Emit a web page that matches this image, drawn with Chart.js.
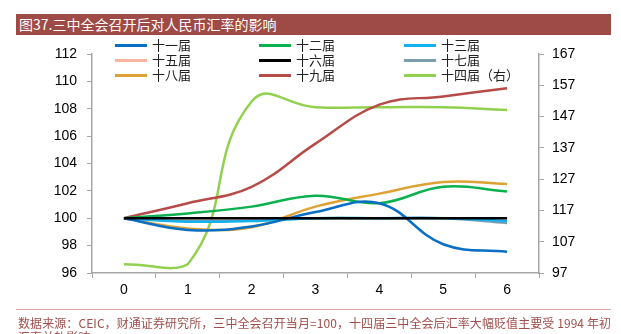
<!DOCTYPE html>
<html>
<head>
<meta charset="utf-8">
<script src="https://cdn.jsdelivr.net/npm/chart.js@4.4.1/dist/chart.umd.min.js"></script>
<style>
  html, body { margin: 0; padding: 0; background: #ffffff; }
  #wrap { position: relative; width: 621px; height: 334px; overflow: hidden; background: #fff; }
  #chart { position: absolute; left: 0; top: 0; }
  #title {
    position: absolute; left: 16px; top: 14px; width: 595px; height: 21px;
    background: #9e4a46; color: #fff; font-family: "Noto Sans CJK SC", sans-serif;
    font-size: 14px; line-height: 21px; padding-left: 3px; box-sizing: border-box;
  }
  #legend { position: absolute; left: 115px; top: 37px; font-family: "Noto Sans CJK SC", sans-serif; font-size: 13px; color: #222; }
  .item { position: absolute; white-space: nowrap; height: 15px; line-height: 15px; }
  .item span.swatch { display: inline-block; width: 32px; height: 3px; vertical-align: middle; margin-right: 5px; position: relative; top: -1px; }
  #rule { position: absolute; left: 16px; top: 309px; width: 595px; height: 1px; background: #d9a7a4; }
  #source {
    position: absolute; left: 18px; top: 316px; width: 600px; color: #a0504c;
    font-family: "Noto Sans CJK SC", sans-serif; font-size: 12px; line-height: 14px;
    letter-spacing: 0.08px; white-space: nowrap;
  }
</style>
</head>
<body>
<div id="wrap">
  <canvas id="chart" width="621" height="334"></canvas>
  <div id="title">图37.三中全会召开后对人民币汇率的影响</div>
  <div id="legend"></div>
  <div id="rule"></div>
  <div id="source">数据来源：CEIC，财通证券研究所，三中全会召开当月=100，十四届三中全会后汇率大幅贬值主要受 1994 年初<br>汇率并轨影响</div>
</div>
<script>
// months after the plenum
const months = ['0', '1', '2', '3', '4', '5', '6'];

// left axis series (plenum month = 100)
const s11 = [100, 99.15, 99.4, 100.45, 101.1, 98.1, 97.55];
const s12 = [100, 100.35, 100.85, 101.65, 101.1, 102.3, 101.95];
const s13 = [100, 99.75, 99.8, 100, 100, 100, 99.8];
const s15 = [100, 100, 100, 100, 100, 100, 100];
const s16 = [100, 100, 100, 100, 100, 100, 100];
const s17 = [100, 99.8, 99.85, 100, 100, 100, 99.65];
const s18 = [100, 99.25, 99.35, 100.85, 101.8, 102.65, 102.5];
const s19 = [100, 101.1, 102.3, 105.45, 108.3, 108.9, 109.5];

// right axis series
const s14 = [99.8, 99.8, 151.8, 150, 150, 150, 149.1];

const seriesNames = ['十一届', '十二届', '十三届', '十五届', '十六届', '十七届', '十八届', '十九届', '十四届（右）'];
const seriesColours = ['#0a6fc2', '#0bb04f', '#13b2ef', '#f9b4a2', '#000000', '#7b9db0', '#dea234', '#b64b48', '#92d050'];

const leftTicks = { min: 96, max: 112, step: 2 };
const rightTicks = { min: 97, max: 167, step: 10 };

const axisColour = '#a6a6a6';
const tickFont = { family: '"Liberation Sans", Arial, sans-serif', size: 14 };

function makeDataset(i, values, axis) {
  return {
    label: seriesNames[i],
    data: values,
    yAxisID: axis,
    borderColor: seriesColours[i],
    backgroundColor: seriesColours[i],
    borderWidth: 2.5,
    pointRadius: 0,
    tension: 0.4,
    fill: false
  };
}

// build legend in three columns, same as the original
function buildLegend() {
  const box = document.getElementById('legend');
  const colX = [0, 144, 289];
  seriesNames.forEach((name, i) => {
    const el = document.createElement('div');
    el.className = 'item';
    el.style.left = colX[i % 3] + 'px';
    el.style.top = (Math.floor(i / 3) * 15) + 'px';
    el.innerHTML = '<span class="swatch" style="background:' + seriesColours[i] + '"></span>' + name;
    box.appendChild(el);
  });
}

const datasets = [
  makeDataset(0, s11, 'y'),
  makeDataset(1, s12, 'y'),
  makeDataset(2, s13, 'y'),
  makeDataset(3, s15, 'y'),
  makeDataset(4, s16, 'y'),
  makeDataset(5, s17, 'y'),
  makeDataset(6, s18, 'y'),
  makeDataset(7, s19, 'y'),
  makeDataset(8, s14, 'y1')
];

// draw order: black on top of the flat ones
datasets[4].order = -1;
// the right-axis line is a bit more rounded in the original
datasets[8].tension = 0.48;

new Chart(document.getElementById('chart'), {
  type: 'line',
  data: { labels: months, datasets: datasets },
  options: {
    responsive: false,
    animation: false,
    layout: { padding: { top: 54, left: 0, right: 0, bottom: 0 } },
    plugins: { legend: { display: false }, tooltip: { enabled: false } },
    scales: {
      x: {
        offset: true,
        grid: { display: true, offset: true, drawOnChartArea: false, tickLength: 5, color: axisColour },
        border: { display: true, color: axisColour, width: 1.5 },
        ticks: { color: '#000', font: tickFont, padding: 4, maxRotation: 0 },
        afterFit: s => { s.height = 61; }
      },
      y: {
        position: 'left',
        min: leftTicks.min, max: leftTicks.max,
        grid: { display: true, drawOnChartArea: false, tickLength: 5, color: axisColour },
        border: { display: true, color: axisColour, width: 1.5 },
        ticks: { stepSize: leftTicks.step, color: '#000', font: tickFont, padding: 10 },
        afterFit: s => { s.width = 92; }
      },
      y1: {
        position: 'right',
        min: rightTicks.min, max: rightTicks.max,
        grid: { display: true, drawOnChartArea: false, tickLength: 5, color: axisColour },
        border: { display: true, color: axisColour, width: 1.5 },
        ticks: { stepSize: rightTicks.step, color: '#000', font: tickFont, padding: 8 },
        afterFit: s => { s.width = 82; }
      }
    }
  }
});

buildLegend();
</script>
</body>
</html>
